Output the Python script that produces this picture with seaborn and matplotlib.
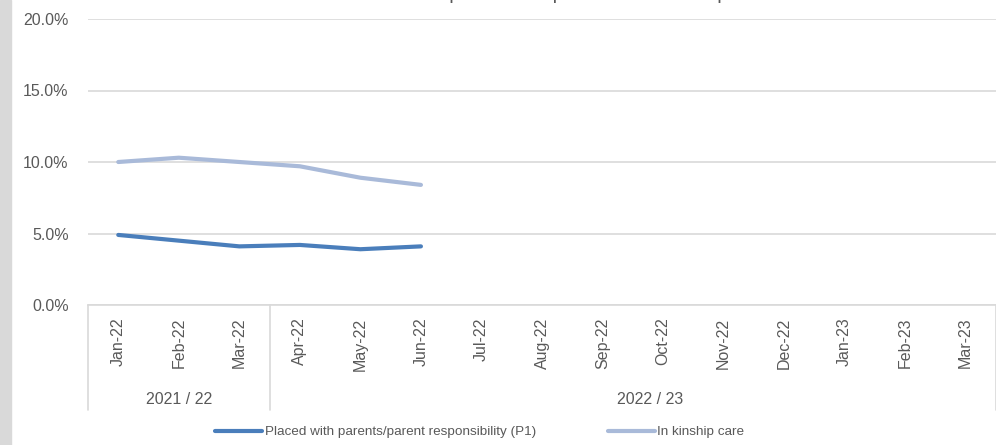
import matplotlib
matplotlib.use("Agg")
import matplotlib.pyplot as plt
import seaborn as sns
import pandas as pd
from matplotlib.patches import Rectangle

months = ["Jan-22", "Feb-22", "Mar-22", "Apr-22", "May-22", "Jun-22", "Jul-22",
          "Aug-22", "Sep-22", "Oct-22", "Nov-22", "Dec-22", "Jan-23", "Feb-23", "Mar-23"]
years = ["2021 / 22", "2022 / 23"]
year_sizes = [3, 12]
p1_values = [4.9, 4.5, 4.1, 4.2, 3.9, 4.1]
kinship_values = [10.0, 10.3, 10.0, 9.7, 8.9, 8.4]
series_names = ["Placed with parents/parent responsibility (P1)", "In kinship care"]
yticks = [0, 5, 10, 15, 20]
title_text = "Children looked after placed with parents or in kinship care"

sns.set_theme(style="white")
plt.rcParams["font.family"] = ["Liberation Sans", "DejaVu Sans"]

W, H = 996, 445
fig = plt.figure(figsize=(W / 100, H / 100), dpi=100)
fig.patches.append(Rectangle((0, 0), 11 / W, 1, transform=fig.transFigure,
                             color="#d9d9d9", zorder=0))

ax = fig.add_axes([88 / W, (H - 305) / H, 908 / W, (305 - 19) / H])

rows = []
for i, v in enumerate(p1_values):
    rows.append({"idx": i, "value": v, "series": series_names[0]})
for i, v in enumerate(kinship_values):
    rows.append({"idx": i, "value": v, "series": series_names[1]})
df = pd.DataFrame(rows)

palette = {series_names[0]: "#4a7ebb", series_names[1]: "#a9bad9"}
sns.lineplot(data=df, x="idx", y="value", hue="series", palette=palette,
             linewidth=3.0, ax=ax, legend=True)
for ln in ax.lines:
    ln.set_solid_capstyle("round")

ax.set_xlim(-0.5, len(months) - 0.5)
ax.set_ylim(0, 20)
ax.set_yticks(yticks)
ax.set_yticklabels([f"{v:.1f}%" for v in yticks])
ax.set_xticks(range(len(months)))
ax.set_xticklabels(months, rotation=90, va="top")
ax.tick_params(axis="x", length=0, pad=9, labelsize=11.5, colors="#595959")
ax.tick_params(axis="y", length=0, pad=14, labelsize=11.5, colors="#595959")
ax.set_xlabel("")
ax.set_ylabel("")
ax.grid(axis="y", color="#d9d9d9", linewidth=1.2)
ax.grid(axis="x", visible=False)
for s in ["top", "right", "left"]:
    ax.spines[s].set_visible(False)
ax.spines["bottom"].set_color("#d9d9d9")
ax.spines["bottom"].set_linewidth(1.2)

# multi-level category axis
px = 20 / (305 - 19)
ybottom = -(410 - 305) * px
bounds = [-0.5]
for n in year_sizes:
    bounds.append(bounds[-1] + n)
for b in bounds:
    ax.plot([b, b], [0, ybottom], color="#d9d9d9", linewidth=1.2, clip_on=False)
ylab = -(400 - 305) * px
centers = [(bounds[0] + bounds[1]) / 2, (bounds[1] + bounds[2]) / 2 + 0.28]
for c, t in zip(centers, years):
    ax.text(c, ylab, t, ha="center", va="center", fontsize=11.5, color="#595959")

h, l = ax.get_legend_handles_labels()
ax.get_legend().remove()
fig.legend(h, l, loc="center left", bbox_to_anchor=(215 / W, (H - 432) / H), ncol=2,
           frameon=False, fontsize=9.7, handlelength=3.5, handletextpad=0.2,
           columnspacing=5.3, borderpad=0, borderaxespad=0, labelcolor="#595959")

fig.text(517 / W, 1 + 1 / H, title_text, ha="center", va="baseline",
         fontsize=14, color="#595959")

fig.savefig("out.png", dpi=100)
